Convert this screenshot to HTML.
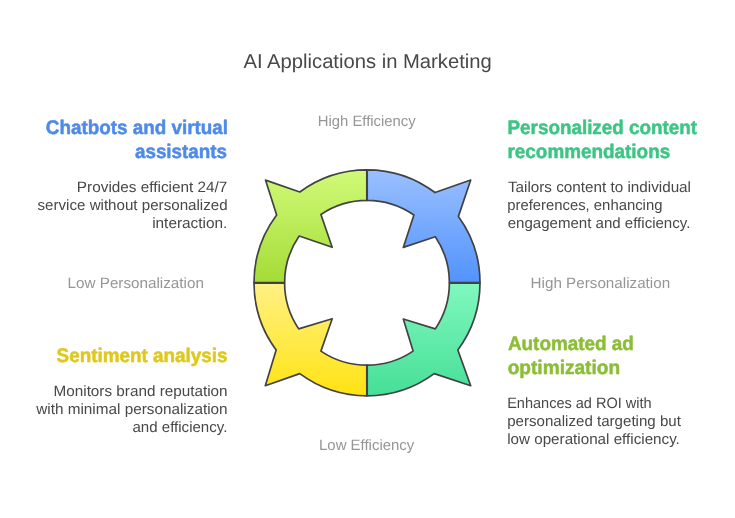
<!DOCTYPE html>
<html lang="en"><head><meta charset="utf-8"><title>AI Applications in Marketing</title>
<style>
html,body{margin:0;padding:0;background:#fff;}
body{width:735px;height:518px;overflow:hidden;}
svg{display:block;}
text{font-family:"Liberation Sans",sans-serif;text-rendering:geometricPrecision;}
svg{will-change:transform;}
.title{font-size:20px;fill:#484848;}
.lab{font-size:15px;fill:#969696;}
.h{font-size:19.6px;font-weight:bold;stroke-width:0.5px;stroke-linejoin:round;}
.b{font-size:15px;fill:#484848;}
.blue{fill:#4E8AE9;stroke:#4E8AE9;}
.green{fill:#3CC583;stroke:#3CC583;}
.yellow{fill:#E0C81A;stroke:#E0C81A;}
.lime{fill:#8BBE36;stroke:#8BBE36;}
.q{stroke:#424242;stroke-width:1.7;stroke-linejoin:round;}
</style></head><body>
<svg width="735" height="518" viewBox="0 0 735 518">
<defs>
<linearGradient id="gLime" x1="0" y1="0" x2="0" y2="1"><stop offset="0" stop-color="#D0FA78"/><stop offset="1" stop-color="#A5DC37"/></linearGradient>
<linearGradient id="gBlue" x1="0" y1="0" x2="0" y2="1"><stop offset="0" stop-color="#9AC0FF"/><stop offset="1" stop-color="#5293FE"/></linearGradient>
<linearGradient id="gYellow" x1="0" y1="0" x2="0" y2="1"><stop offset="0" stop-color="#FFF185"/><stop offset="1" stop-color="#FFE312"/></linearGradient>
<linearGradient id="gGreen" x1="0" y1="0" x2="0" y2="1"><stop offset="0" stop-color="#80F8BF"/><stop offset="1" stop-color="#46DF97"/></linearGradient>
</defs>
<rect width="735" height="518" fill="#ffffff"/>
<path class="q" fill="url(#gLime)" d="M367.00 169.80 A113.00 113.00 0 0 0 299.79 191.96 L265.50 180.10 L276.64 214.95 A113.00 113.00 0 0 0 254.00 282.80 L284.60 282.80 A82.40 82.40 0 0 1 299.17 236.01 L332.20 247.30 L320.92 214.49 A82.40 82.40 0 0 1 367.00 200.40 Z"/>
<path class="q" fill="url(#gBlue)" d="M480.00 282.80 A113.00 113.00 0 0 0 458.42 216.38 L470.70 180.00 L435.01 192.55 A113.00 113.00 0 0 0 367.00 169.80 L367.00 200.40 A82.40 82.40 0 0 1 413.91 215.06 L403.30 247.40 L435.31 236.72 A82.40 82.40 0 0 1 449.40 282.80 Z"/>
<path class="q" fill="url(#gYellow)" d="M254.00 282.80 A113.00 113.00 0 0 0 276.16 350.01 L265.30 385.70 L299.79 373.64 A113.00 113.00 0 0 0 367.00 395.80 L367.00 365.20 A82.40 82.40 0 0 1 320.92 351.11 L332.20 318.70 L298.69 328.88 A82.40 82.40 0 0 1 284.60 282.80 Z"/>
<path class="q" fill="url(#gGreen)" d="M367.00 395.80 A113.00 113.00 0 0 0 434.21 373.64 L470.70 385.70 L457.84 350.01 A113.00 113.00 0 0 0 480.00 282.80 L449.40 282.80 A82.40 82.40 0 0 1 435.31 328.88 L403.30 319.00 L413.08 351.11 A82.40 82.40 0 0 1 367.00 365.20 Z"/>
<path d="M367 169.8V200.4M367 365.2V395.8M254 282.9H284.6M449.4 282.9H480" stroke="#424242" stroke-width="2.1" fill="none"/>
<g id="tx">
<text x="243.50" y="67.80" class="title" textLength="248.25" lengthAdjust="spacingAndGlyphs">AI Applications in Marketing</text>
<text x="317.72" y="125.80" class="lab" textLength="98.00" lengthAdjust="spacingAndGlyphs">High Efficiency</text>
<text x="319.03" y="449.80" class="lab" textLength="95.28" lengthAdjust="spacingAndGlyphs">Low Efficiency</text>
<text x="67.54" y="288.20" class="lab" textLength="136.38" lengthAdjust="spacingAndGlyphs">Low Personalization</text>
<text x="530.62" y="288.20" class="lab" textLength="139.50" lengthAdjust="spacingAndGlyphs">High Personalization</text>
<text x="45.80" y="133.60" class="h blue" textLength="182.21" lengthAdjust="spacingAndGlyphs">Chatbots and virtual</text>
<text x="134.95" y="157.60" class="h blue" textLength="92.16" lengthAdjust="spacingAndGlyphs">assistants</text>
<text x="507.50" y="133.60" class="h green" textLength="189.61" lengthAdjust="spacingAndGlyphs">Personalized content</text>
<text x="507.49" y="157.60" class="h green" textLength="162.71" lengthAdjust="spacingAndGlyphs">recommendations</text>
<text x="56.54" y="361.80" class="h yellow" textLength="171.07" lengthAdjust="spacingAndGlyphs">Sentiment analysis</text>
<text x="507.94" y="349.80" class="h lime" textLength="125.97" lengthAdjust="spacingAndGlyphs">Automated ad</text>
<text x="507.69" y="373.80" class="h lime" textLength="112.43" lengthAdjust="spacingAndGlyphs">optimization</text>
<text x="76.88" y="191.80" class="b" textLength="150.48" lengthAdjust="spacingAndGlyphs">Provides efficient 24/7</text>
<text x="37.49" y="209.80" class="b" textLength="190.12" lengthAdjust="spacingAndGlyphs">service without personalized</text>
<text x="152.16" y="227.80" class="b" textLength="75.22" lengthAdjust="spacingAndGlyphs">interaction.</text>
<text x="507.94" y="191.80" class="b" textLength="183.06" lengthAdjust="spacingAndGlyphs">Tailors content to individual</text>
<text x="507.19" y="209.80" class="b" textLength="155.22" lengthAdjust="spacingAndGlyphs">preferences, enhancing</text>
<text x="507.70" y="227.80" class="b" textLength="182.66" lengthAdjust="spacingAndGlyphs">engagement and efficiency.</text>
<text x="53.53" y="396.00" class="b" textLength="174.08" lengthAdjust="spacingAndGlyphs">Monitors brand reputation</text>
<text x="36.19" y="414.00" class="b" textLength="191.41" lengthAdjust="spacingAndGlyphs">with minimal personalization</text>
<text x="132.48" y="432.00" class="b" textLength="94.89" lengthAdjust="spacingAndGlyphs">and efficiency.</text>
<text x="507.18" y="408.00" class="b" textLength="144.48" lengthAdjust="spacingAndGlyphs">Enhances ad ROI with</text>
<text x="507.19" y="426.00" class="b" textLength="173.71" lengthAdjust="spacingAndGlyphs">personalized targeting but</text>
<text x="507.18" y="444.00" class="b" textLength="172.68" lengthAdjust="spacingAndGlyphs">low operational efficiency.</text>
</g>
</svg>
</body></html>
